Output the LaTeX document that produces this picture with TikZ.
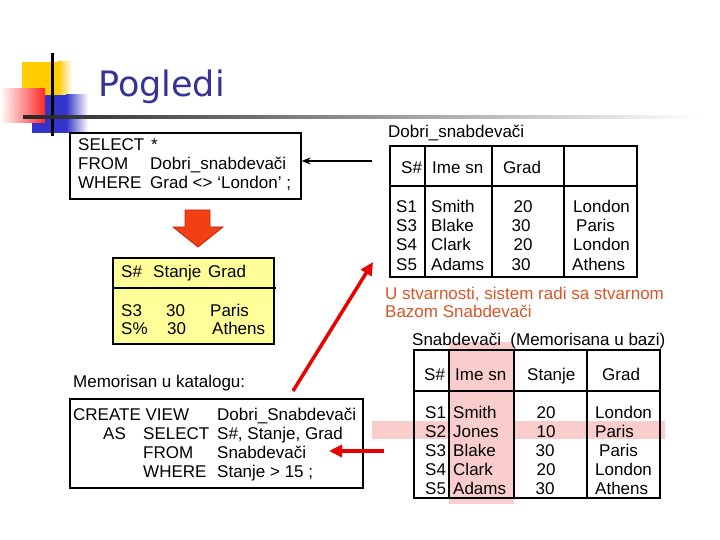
\documentclass[tikz,border=0pt]{standalone}
\usepackage{fontspec}
\setmainfont{Liberation Sans}
\newfontfamily\titlefont{DejaVu Sans}
\usetikzlibrary{arrows.meta}
\definecolor{titleblue}{RGB}{51,51,153}
\definecolor{logoyellow}{RGB}{255,204,0}
\definecolor{logoblue}{RGB}{51,51,204}
\definecolor{logored}{RGB}{255,40,40}
\definecolor{boxyellow}{RGB}{255,255,153}
\definecolor{blockred}{RGB}{240,64,20}
\definecolor{blockedge}{RGB}{190,40,10}
\definecolor{notered}{RGB}{215,85,40}
\definecolor{arrred}{RGB}{235,0,0}
\definecolor{pinkhl}{RGB}{250,205,205}
\begin{document}
\begin{tikzpicture}[x=1pt,y=-1pt,
  t/.style={anchor=base west,inner sep=0pt,font=\fontsize{17}{19}\selectfont},
  tc/.style={anchor=base,inner sep=0pt,font=\fontsize{17}{19}\selectfont},
  box/.style={draw,line width=1.6pt,inner sep=0pt,anchor=north west},
  rule/.style={line width=1.6pt},
  redarrow/.style={draw=arrred,line width=3.5pt,-{Triangle[length=13pt,width=12pt]}},
  blackarrow/.style={draw=black,line width=1.4pt,-{Stealth[length=9pt,width=7pt]}}]
\useasboundingbox (0,0) rectangle (720,540);
% logo
\fill[logoyellow] (22,62) rectangle (58,95);
\shade[left color=logoyellow,right color=white] (58,62) rectangle (72,95);
\fill[logoblue] (32,95) rectangle (66,133);
\shade[left color=logoblue,right color=white] (66,95) rectangle (88,133);
\shade[left color=white,right color=logored] (0,89) rectangle (45,123);
\fill[black] (50.5,53) rectangle (53.5,136);
\shade[left color=black!85,right color=white] (23,115.5) rectangle (700,118.5);
% title
\node[anchor=base west,inner sep=0pt,text=titleblue,font=\titlefont\fontsize{35}{40}\selectfont] (title) at (98,97) {Pogledi};
% SELECT box
\node[box,minimum width=231pt,minimum height=66pt] (selbox) at (69,132) {};
\node[t] (s1a) at (78,151) {SELECT};
\node[t] (s1b) at (151,151) {*};
\node[t] (s2a) at (78,170) {FROM};
\node[t] (s2b) at (150,170) {Dobri\_snabdevači};
\node[t] (s3a) at (78,189) {WHERE};
\node[t] (s3b) at (150,189) {Grad <> ‘London’ ;};
% block arrow down
\filldraw[fill=blockred,draw=blockedge,line width=0.8pt] (185,210) -- (210,210) -- (210,227) -- (223,227) -- (198,247) -- (173,227) -- (185,227) -- cycle;
% yellow result box
\node[box,fill=boxyellow,minimum width=161pt,minimum height=86pt] (res) at (112,257) {};
\draw[rule] (112,288) -- (276,288);
\node[t] (rh1) at (121,277) {S\#};
\node[t] (rh2) at (153,277) {Stanje};
\node[t] (rh3) at (208,277) {Grad};
\node[t] (r11) at (121,316) {S3};
\node[t] (r12) at (166,316) {30};
\node[t] (r13) at (210,316) {Paris};
\node[t] (r21) at (121,334) {S\%};
\node[t] (r22) at (167,334) {30};
\node[t] (r23) at (212,334) {Athens};
% catalogue
\node[t] (memlbl) at (73,387) {Memorisan u katalogu:};
\node[box,minimum width=293pt,minimum height=89pt] (cvbox) at (69,398) {};
\node[t] (c1a) at (73,420) {CREATE VIEW};
\node[t] (c1b) at (217,420) {Dobri\_Snabdevači};
\node[t] (c2a) at (103,439) {AS};
\node[t] (c2b) at (143,439) {SELECT};
\node[t] (c2c) at (217,439) {S\#, Stanje, Grad};
\node[t] (c3b) at (143,458) {FROM};
\node[t] (c3c) at (217,458) {Snabdevači};
\node[t] (c4b) at (143,477) {WHERE};
\node[t] (c4c) at (217,477) {Stanje > 15 ;};
% top right table
\node[t] (dlbl) at (388,138) {Dobri\_snabdevači};
\node[box,minimum width=247pt,minimum height=131pt] (dobri) at (389,145) {};
\draw[rule] (389,186) -- (636,186);
\draw[rule] (425,145) -- (425,276);
\draw[rule] (492,145) -- (492,276);
\draw[rule] (564,145) -- (564,276);
\node[t] (dh1) at (401,174) {S\#};
\node[t] (dh2) at (432,174) {Ime sn};
\node[t] (dh3) at (503,174) {Grad};
\node[t] at (396,213) {S1}; \node[t] at (431,213) {Smith}; \node[tc] at (523,213) {20}; \node[t] at (573,213) {London};
\node[t] at (396,232) {S3}; \node[t] at (431,232) {Blake}; \node[tc] at (521,232) {30}; \node[t] at (576,232) {Paris};
\node[t] at (396,251) {S4}; \node[t] at (431,251) {Clark}; \node[tc] at (523,251) {20}; \node[t] at (573,251) {London};
\node[t] at (396,270) {S5}; \node[t] at (431,270) {Adams}; \node[tc] at (521,270) {30}; \node[t] at (572,270) {Athens};
% note
\node[t,text=notered] (note1) at (385,299) {U stvarnosti, sistem radi sa stvarnom};
\node[t,text=notered] (note2) at (385,317) {Bazom Snabdevači};
% bottom right table
\fill[pinkhl] (449,342) rectangle (514,504);
\fill[pinkhl] (372,421) rectangle (665,439);
\node[t] (slbl) at (412,345) {Snabdevači\ \ (Memorisana u bazi)};
\node[box,minimum width=246pt,minimum height=148pt] (snab) at (413,349) {};
\draw[rule] (413,391) -- (659,391);
\draw[rule] (449,349) -- (449,497);
\draw[rule] (514,349) -- (514,497);
\draw[rule] (587,349) -- (587,497);
\node[t] (sh1) at (424,380) {S\#};
\node[t] (sh2) at (455,380) {Ime sn};
\node[t] (sh3) at (527,380) {Stanje};
\node[t] (sh4) at (602,380) {Grad};
\node[t] at (425,418) {S1}; \node[t] at (453,418) {Smith}; \node[tc] at (546,418) {20}; \node[t] at (595,418) {London};
\node[t] at (425,437) {S2}; \node[t] at (453,437) {Jones}; \node[tc] at (546,437) {10}; \node[t] at (595,437) {Paris};
\node[t] at (425,456) {S3}; \node[t] at (453,456) {Blake}; \node[tc] at (545,456) {30}; \node[t] at (599,456) {Paris};
\node[t] at (425,475) {S4}; \node[t] at (453,475) {Clark}; \node[tc] at (546,475) {20}; \node[t] at (595,475) {London};
\node[t] at (425,494) {S5}; \node[t] at (453,494) {Adams}; \node[tc] at (545,494) {30}; \node[t] at (595,494) {Athens};
% connectors
\coordinate (blackstart) at (372,161);
\draw[blackarrow] (blackstart) -- (selbox.east |- blackstart);
\coordinate (diagstart) at (293,391);
\coordinate (diagend) at (373,262);
\draw[redarrow] (diagstart) -- (diagend);
\coordinate (redstart) at (384,451);
\coordinate (redend) at (329,451);
\draw[redarrow] (redstart) -- (redend);
\end{tikzpicture}
\end{document}
